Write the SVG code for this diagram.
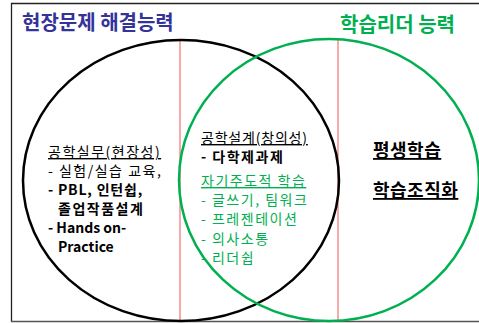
<svg xmlns="http://www.w3.org/2000/svg" width="479" height="323" viewBox="0 0 479 323">
<style>
text{font-family:"Noto Sans CJK KR","Noto Sans",sans-serif;font-size:14px;fill:#000;letter-spacing:1.5px}
.t{font-size:20px;font-weight:bold;letter-spacing:0}
.b{font-weight:bold}
.r{font-size:18px;font-weight:bold;letter-spacing:0.5px}
.l{letter-spacing:0}
.g{fill:#00b050}
.u{text-decoration:underline}
.div{stroke:#f47c7c;stroke-width:1.3}
</style>
<rect x="0" y="0" width="479" height="323" fill="#fff"/>
<g id="frame"><path d="M11.5,322 V3.5 H479" fill="none" stroke="#222" stroke-width="1.3"/><path d="M11 321.5 H479" stroke="#555" stroke-width="1.5"/></g>
<g id="connectors">
<line class="div" x1="180" y1="40" x2="180" y2="321"/>
<line class="div" x1="338" y1="39" x2="338" y2="321"/>
</g>
<g id="circle-field"><ellipse cx="181" cy="180.5" rx="158" ry="140.5" fill="none" stroke="#000" stroke-width="2.5"/></g>
<g id="circle-leader"><ellipse cx="329" cy="180" rx="150" ry="141" fill="none" stroke="#00b050" stroke-width="2.5"/></g>
<g id="title-field"><text class="t" x="22" y="30" style="fill:#333399">현장문제 해결능력</text></g>
<g id="title-leader"><text class="t g" x="340" y="32">학습리더 능력</text></g>
<g id="left-text">
<text class="u" x="48" y="157">공학실무(현장성)</text>
<text x="48" y="176">- 실험/실습 교육,</text>
<text class="b" x="48" y="195" style="letter-spacing:0.8px">- PBL, 인턴쉽,</text>
<text class="b" x="58" y="214">졸업작품설계</text>
<text class="b l" x="48" y="233">- Hands on-</text>
<text class="b l" x="58" y="252">Practice</text>
</g>
<g id="middle-text">
<text class="u" x="201" y="143" style="letter-spacing:0.8px">공학설계(창의성)</text>
<text class="b" x="201" y="162">- 다학제과제</text>
<text class="g u" x="201" y="186">자기주도적 학습</text>
<text class="g" x="201" y="205">- 글쓰기, 팀워크</text>
<text class="g" x="201" y="224">- 프레젠테이션</text>
<text class="g" x="201" y="244">- 의사소통</text>
<text class="g" x="201" y="263">- 리더쉽</text>
</g>
<g id="right-text">
<text class="r u" x="373" y="157">평생학습</text>
<text class="r u" x="373" y="197">학습조직화</text>
</g>
</svg>
